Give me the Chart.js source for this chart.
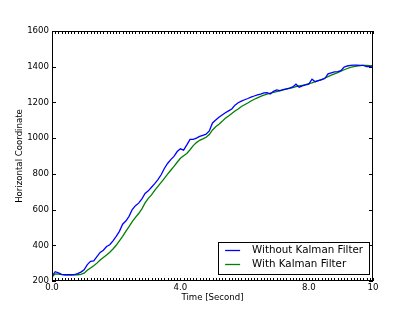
<!DOCTYPE html>
<html>
<head>
<meta charset="utf-8">
<script src="https://cdn.jsdelivr.net/npm/chart.js@4.4.1/dist/chart.umd.min.js"></script>
<style>
html, body { margin: 0; padding: 0; background: #fff; }
</style>
</head>
<body>
<canvas id="kalmanChart" width="415" height="312"></canvas>
<script>
// time samples (seconds)
const timeSec = [
  0.0, 0.1, 0.2, 0.3, 0.4, 0.5, 0.6, 0.7, 0.8, 0.9,
  1.0, 1.1, 1.2, 1.3, 1.4, 1.5, 1.6, 1.7, 1.8, 1.9,
  2.0, 2.1, 2.2, 2.3, 2.4, 2.5, 2.6, 2.7, 2.8, 2.9,
  3.0, 3.1, 3.2, 3.3, 3.4, 3.5, 3.6, 3.7, 3.8, 3.9,
  4.0, 4.1, 4.2, 4.3, 4.4, 4.5, 4.6, 4.7, 4.8, 4.9,
  5.0, 5.1, 5.2, 5.3, 5.4, 5.5, 5.6, 5.7, 5.8, 5.9,
  6.0, 6.1, 6.2, 6.3, 6.4, 6.5, 6.6, 6.7, 6.8, 6.9,
  7.0, 7.1, 7.2, 7.3, 7.4, 7.5, 7.6, 7.7, 7.8, 7.9,
  8.0, 8.1, 8.2, 8.3, 8.4, 8.5, 8.6, 8.7, 8.8, 8.9,
  9.0, 9.1, 9.2, 9.3, 9.4, 9.5, 9.6, 9.7, 9.8, 9.9,
  10.0
];

const withoutKalman = [
  228, 252, 245, 237, 235, 235, 235, 236, 241, 250,
  263, 292, 310, 312, 336, 360, 372, 393, 403, 425,
  450, 478, 518, 536, 562, 600, 622, 636, 660, 690,
  705, 725, 745, 768, 795, 830, 858, 880, 898, 925,
  940, 933, 962, 993, 993, 1000, 1010, 1016, 1022, 1040,
  1085, 1102, 1117, 1130, 1142, 1153, 1163, 1185, 1198, 1207,
  1215, 1222, 1230, 1236, 1242, 1247, 1254, 1255, 1247, 1262,
  1270, 1266, 1272, 1276, 1280, 1287, 1302, 1285, 1293, 1298,
  1302, 1330, 1316, 1322, 1328, 1334, 1360, 1366, 1371, 1373,
  1378, 1398, 1404, 1408, 1409, 1409, 1408, 1408, 1400, 1401,
  1406
];

const withKalman = [
  222, 240, 238, 236, 235, 235, 235, 235, 235, 237,
  244, 260, 273, 285, 300, 318, 332, 345, 361, 379,
  400, 425, 450, 478, 505, 532, 556, 578, 604, 637,
  663, 682, 707, 730, 752, 775, 798, 820, 842, 865,
  887, 901, 914, 935, 958, 975, 988, 996, 1005, 1020,
  1046, 1064, 1078, 1094, 1111, 1124, 1138, 1152, 1163, 1177,
  1187, 1197, 1208, 1218, 1226, 1234, 1241, 1247, 1252, 1256,
  1261, 1265, 1270, 1274, 1279, 1283, 1288, 1292, 1296, 1300,
  1305, 1310, 1316, 1322, 1328, 1337, 1345, 1353, 1360, 1367,
  1375, 1383, 1390, 1396, 1400, 1404, 1406, 1408, 1408, 1406,
  1405
];

const seriesNames = ['Without Kalman Filter', 'With Kalman Filter'];
const seriesColors = ['#0000ff', '#008000'];
const xTickValues = [0, 4, 8, 10];
const xTickText = ['0.0', '4.0', '8.0', '10'];

Chart.defaults.font.family = 'DejaVu Sans';
Chart.defaults.color = '#000';

function toPoints(values) {
    return values.map((v, i) => ({ x: timeSec[i], y: v }));
}

// matplotlib style frame with inward ticks on all four sides, plus the legend box
const frameTicks = {
    id: 'frameTicks',
    afterDatasetsDraw(chart) {
        const { ctx, chartArea: a, scales: { x, y } } = chart;
        ctx.save();
        ctx.strokeStyle = '#000';
        ctx.lineWidth = 1;
        ctx.beginPath();
        x.ticks.forEach(t => {
            const px = Math.round(x.getPixelForValue(t.value)) + 0.5;
            ctx.moveTo(px, a.bottom);
            ctx.lineTo(px, a.bottom - 3);
            ctx.moveTo(px, a.top);
            ctx.lineTo(px, a.top + 3);
        });
        y.ticks.forEach(t => {
            const py = Math.round(y.getPixelForValue(t.value)) + 0.5;
            ctx.moveTo(a.left, py);
            ctx.lineTo(a.left + 4, py);
            ctx.moveTo(a.right, py);
            ctx.lineTo(a.right - 4, py);
        });
        ctx.stroke();
        ctx.strokeRect(a.left + 0.5, a.top + 0.5, a.right - a.left - 1, a.bottom - a.top - 1);
        ctx.restore();
    },
    afterDraw(chart) {
        const { ctx, chartArea: a } = chart;
        const sets = chart.data.datasets;
        ctx.save();
        ctx.font = '10.3px "DejaVu Sans"';
        const textW = Math.max(...sets.map(d => ctx.measureText(d.label).width));
        const boxW = 7 + 15 + 12 + textW + 6;
        const boxH = 32;
        const right = a.right - 4;
        const bottom = a.bottom - 7;
        const left = right - boxW;
        const top = bottom - boxH;
        ctx.fillStyle = '#fff';
        ctx.fillRect(left, top, boxW, boxH);
        ctx.strokeStyle = '#000';
        ctx.lineWidth = 1;
        ctx.strokeRect(Math.round(left) + 0.5, Math.round(top) + 0.5, Math.round(boxW), Math.round(boxH));
        ctx.textBaseline = 'middle';
        sets.forEach((d, i) => {
            const cy = top + 8.5 + i * 14;
            ctx.strokeStyle = d.borderColor;
            ctx.lineWidth = 1.3;
            ctx.beginPath();
            ctx.moveTo(left + 7, cy);
            ctx.lineTo(left + 22, cy);
            ctx.stroke();
            ctx.fillStyle = '#000';
            ctx.fillText(d.label, left + 34, cy);
        });
        ctx.restore();
    }
};

new Chart(document.getElementById('kalmanChart'), {
    type: 'line',
    data: {
        datasets: [
            {
                label: seriesNames[0],
                data: toPoints(withoutKalman),
                borderColor: seriesColors[0],
                borderWidth: 1.3,
                pointRadius: 0,
                tension: 0
            },
            {
                label: seriesNames[1],
                data: toPoints(withKalman),
                borderColor: seriesColors[1],
                borderWidth: 1.3,
                pointRadius: 0,
                tension: 0
            }
        ]
    },
    options: {
        responsive: false,
        animation: false,
        layout: { padding: { top: 31, right: 42, left: 0, bottom: 0 } },
        plugins: {
            legend: { display: false },
            tooltip: { enabled: false }
        },
        scales: {
            x: {
                type: 'linear',
                min: 0,
                max: 10,
                grid: { display: false, drawTicks: false },
                border: { display: false },
                ticks: {
                    stepSize: 0.1,
                    autoSkip: false,
                    maxRotation: 0,
                    padding: 2,
                    font: { size: 8.6 },
                    callback: (v) => {
                        const k = xTickValues.findIndex(t => Math.abs(t - v) < 1e-6);
                        return k >= 0 ? xTickText[k] : '';
                    }
                },
                title: {
                    display: true,
                    text: 'Time [Second]',
                    font: { size: 8.6 },
                    padding: { top: 0, bottom: 9 }
                },
                afterFit: (s) => { s.height = 31; }
            },
            y: {
                min: 200,
                max: 1600,
                grid: { display: false, drawTicks: false },
                border: { display: false },
                ticks: {
                    stepSize: 200,
                    padding: 3,
                    font: { size: 8.6 },
                    callback: (v) => String(v)
                },
                title: {
                    display: true,
                    text: 'Horizontal Coordinate',
                    font: { size: 8.6 },
                    padding: { top: 15, bottom: 0 }
                },
                afterFit: (s) => { s.width = 52; }
            }
        }
    },
    plugins: [frameTicks]
});
</script>
</body>
</html>
